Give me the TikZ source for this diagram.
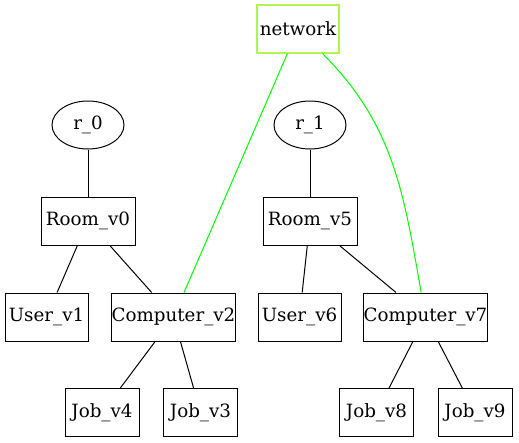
\documentclass[tikz,border=0pt]{standalone}
\usepackage{fontspec}
\setmainfont{DejaVu Serif}
\usepackage{tikz}
\usetikzlibrary{shapes.geometric}
\usepackage{xcolor}
\definecolor{netrand}{RGB}{175,245,80}
\definecolor{netkante}{RGB}{0,255,0}

\begin{document}
\begin{tikzpicture}[x=0.75pt,y=-0.75pt,
  font=\fontsize{13.7}{16}\selectfont,
  kasten/.style={draw, line width=0.75pt, rectangle, inner sep=0pt, minimum height=36pt},
  wurzel/.style={draw, line width=0.75pt, ellipse, inner sep=0pt, minimum width=54pt, minimum height=36pt},
  kante/.style={-, line width=0.75pt},
  netz/.style={-, line width=0.75pt, netkante}]

\useasboundingbox (0,0) rectangle (519,443);

%Netzwerk
\node[kasten, draw=netrand, line width=0.9pt, minimum width=61.5pt, minimum height=36pt] (network) at (298,29) {network};

%Wurzeln
\node[wurzel] (r0) at (88,125) {r\_0};
\node[wurzel] (r1) at (310,125) {r\_1};

%Raeume
\node[kasten, minimum width=70.5pt] (room0) at (88,221) {Room\_v0};
\node[kasten, minimum width=70.5pt] (room5) at (310,221) {Room\_v5};

%Benutzer und Rechner
\node[kasten, minimum width=62.25pt] (user1) at (46.5,317) {User\_v1};
\node[kasten, minimum width=92.25pt] (comp2) at (173.5,317) {Computer\_v2};
\node[kasten, minimum width=62.25pt] (user6) at (299.5,317) {User\_v6};
\node[kasten, minimum width=92.25pt] (comp7) at (425.5,317) {Computer\_v7};

%Jobs
\node[kasten, minimum width=55.5pt] (job4) at (102,412.5) {Job\_v4};
\node[kasten, minimum width=55.5pt] (job3) at (200.5,412.5) {Job\_v3};
\node[kasten, minimum width=55.5pt] (job8) at (376.5,412.5) {Job\_v8};
\node[kasten, minimum width=55.5pt] (job9) at (475,412.5) {Job\_v9};

%Kanten
\draw[kante] (r0) to (room0);
\draw[kante] (room0) to (user1);
\draw[kante] (room0) to (comp2);
\draw[kante] (comp2) to (job4);
\draw[kante] (comp2) to (job3);

\draw[kante] (r1) to (room5);
\draw[kante] (room5) to (user6);
\draw[kante] (room5) to (comp7);
\draw[kante] (comp7) to (job8);
\draw[kante] (comp7) to (job9);

\draw[netz] (network) to (comp2);
\draw[netz] (network) to [out=-45, in=100] (comp7);

\end{tikzpicture}
\end{document}
